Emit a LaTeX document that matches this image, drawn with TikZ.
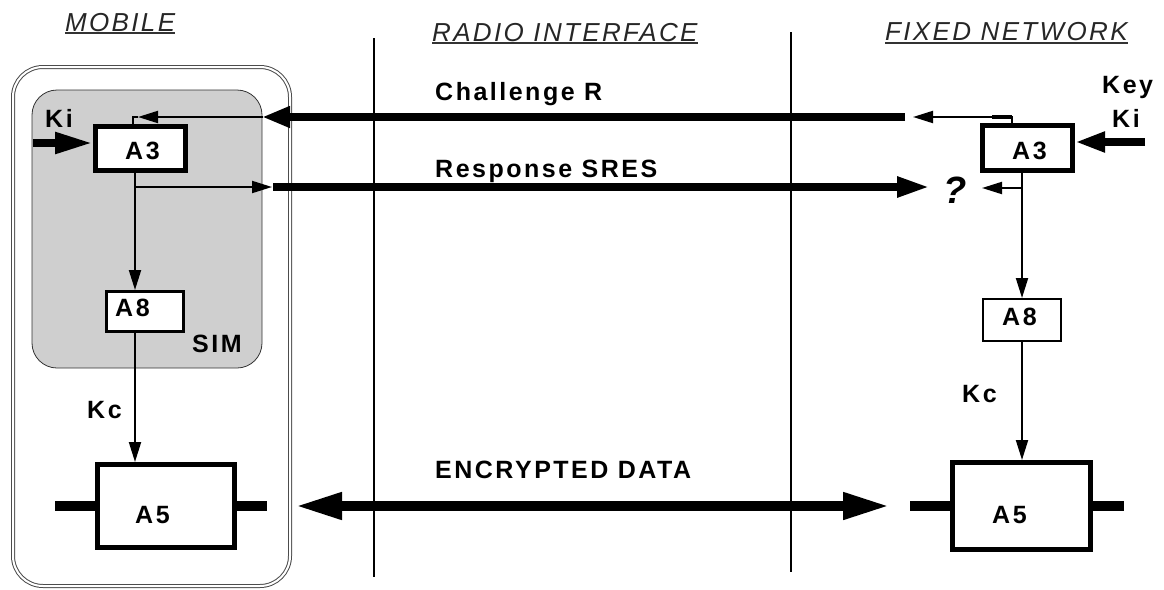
\documentclass[tikz,border=0pt]{standalone}
\usepackage{fontspec}
\setmainfont{Liberation Sans}
\newfontfamily\hdrfont[LetterSpace=9]{Liberation Sans}
\newfontfamily\lblfont[LetterSpace=10]{Liberation Sans}
\usetikzlibrary{arrows.meta}
\tikzset{
  hdr/.style={font=\hdrfont\itshape\fontsize{26}{30}\selectfont, inner sep=0, anchor=base west, text=black!85},
  lbl/.style={font=\lblfont\bfseries\fontsize{25}{30}\selectfont, inner sep=0, anchor=base west},
  algbox/.style={draw, fill=white, inner sep=0, line width=5pt},
  thinln/.style={line width=2pt},
  thinarr/.style={line width=2pt, -{Triangle[length=20pt,width=12pt]}},
  fatarr/.style={line width=8pt, -{Triangle[length=#1]}},
  stub/.style={line width=10pt},
  divider/.style={line width=2.5pt},
  uline/.style={line width=1.3pt, black!80}
}
\begin{document}
\begin{tikzpicture}[x=1pt,y=-1pt]
\useasboundingbox (0,0) rectangle (1164,589);
% mobile frame and SIM
\draw[black!70, line width=1pt, double=white, double distance=2pt, rounded corners=30pt] (13,67) rectangle (290,586);
\draw[fill=black!19, draw=black!80, line width=0.8pt, rounded corners=25pt] (32,90) rectangle (262,368);
% dividers
\coordinate (v1t) at (374,38); \coordinate (v1b) at (374,577);
\coordinate (v2t) at (791,32); \coordinate (v2b) at (791,572);
\draw[divider] (v1t) -- (v1b);
\draw[divider] (v2t) -- (v2b);
% headers
\node[hdr] (hm) at (65,31) {MOBILE};
\node[hdr] (hr) at (432,41) {RADIO INTERFACE};
\node[hdr] (hf) at (885,40) {FIXED NETWORK};
\draw[uline] ([yshift=-2pt]hm.base west) -- ([yshift=-2pt]hm.base east);
\draw[uline] ([yshift=-2pt]hr.base west) -- ([yshift=-2pt]hr.base east);
\draw[uline] ([yshift=-3pt]hf.base west) -- ([yshift=-3pt]hf.base east);
% boxes
\node[algbox, minimum width=90pt, minimum height=44pt] (a3m) at (140.5,148.5) {};
\node[algbox, minimum width=90pt, minimum height=45pt] (a3f) at (1027.5,148) {};
\node[algbox, line width=3pt, minimum width=77pt, minimum height=40pt] (a8m) at (145,311.5) {};
\node[algbox, line width=2pt, minimum width=78pt, minimum height=42pt] (a8f) at (1022,320) {};
\node[algbox, minimum width=137pt, minimum height=83pt] (a5m) at (166,506) {};
\node[algbox, minimum width=138pt, minimum height=87pt] (a5f) at (1021.5,506) {};
\node[lbl] (ta3m) at (125,159) {A3};
\node[lbl] (ta3f) at (1012,159) {A3};
\node[lbl] (ta8m) at (115,316) {A8};
\node[lbl] (ta8f) at (1002,325) {A8};
\node[lbl] (ta5m) at (135,523) {A5};
\node[lbl] (ta5f) at (992,523) {A5};
% labels
\node[lbl] (ki) at (45,127) {Ki};
\node[lbl] (sim) at (192,352) {SIM};
\node[lbl] (kcm) at (87,418) {Kc};
\node[lbl] (kcf) at (962,402) {Kc};
\node[lbl] (chal) at (435,100) {Challenge R};
\node[lbl] (resp) at (435,177) {Response SRES};
\node[lbl] (enc) at (435,478) {ENCRYPTED DATA};
\node[lbl] (key) at (1102,93) {Key};
\node[lbl] (kif0) at (1112,127) {Ki};
\node[font=\bfseries\itshape\fontsize{38}{40}\selectfont, inner sep=0, anchor=base west] (q) at (943,203) {?};
% vertical flows
\coordinate (mx) at (135,0);
\coordinate (fx) at (1022,0);
\draw[thinarr] (a3m.south -| mx) -- (a8m.north -| mx);
\draw[thinarr] (a8m.south -| mx) -- (a5m.north -| mx);
\draw[thinarr] (a3f.south -| fx) -- (a8f.north -| fx);
\draw[thinarr] (a8f.south -| fx) -- (a5f.north -| fx);
% Ki inputs
\coordinate (kim) at (33,143);
\draw[fatarr={38pt,width=20pt}] (kim) -- (kim -| a3m.west);
\coordinate (kif) at (1145,142);
\draw[fatarr={30pt,width=19pt}] (kif) -- (kif -| a3f.east);
% challenge
\coordinate (cs) at (905,117);
\coordinate (ct) at (262,117);
\draw[fatarr={28pt,width=20pt}] (cs) -- (ct);
\coordinate (cfx) at (1012,0);
\coordinate (cf) at (913,117);
\draw[thinarr] (a3f.north -| cfx) -- (cfx |- cf) -- (cf);
\coordinate (ctick) at (992,117);
\draw[line width=3.5pt] (ctick) -- (cfx |- cf);
\coordinate (cm) at (263,117);
\coordinate (cmt) at (138,117);
\coordinate (cmx) at (133,0);
\draw[thinarr] (cm) -- (cmt);
\draw[thinln] (cmt) -- (cmx |- cmt) -- (a3m.north -| cmx);
% response
\coordinate (rm) at (135,187);
\coordinate (rmt) at (272,187);
\draw[thinarr] (rm) -- (rmt);
\coordinate (rs) at (273,187);
\coordinate (rt) at (930,187);
\draw[fatarr={33pt,width=19pt}] (rs) -- (rt);
\coordinate (qf) at (982,188);
\draw[thinarr] (fx |- qf) -- (qf);
% A5 stubs
\coordinate (s1) at (55,506); \coordinate (s2) at (267,506);
\coordinate (s3) at (910,506); \coordinate (s4) at (1124,506);
\draw[stub] (s1) -- (a5m.west);
\draw[stub] (a5m.east) -- (s2);
\draw[stub] (s3) -- (a5f.west);
\draw[stub] (a5f.east) -- (s4);
% encrypted data
\coordinate (el) at (295,506); \coordinate (er) at (890,506);
\draw[line width=10pt, {Triangle[length=47pt,width=25pt]}-{Triangle[length=47pt,width=25pt]}] (el) -- (er);
\end{tikzpicture}
\end{document}
